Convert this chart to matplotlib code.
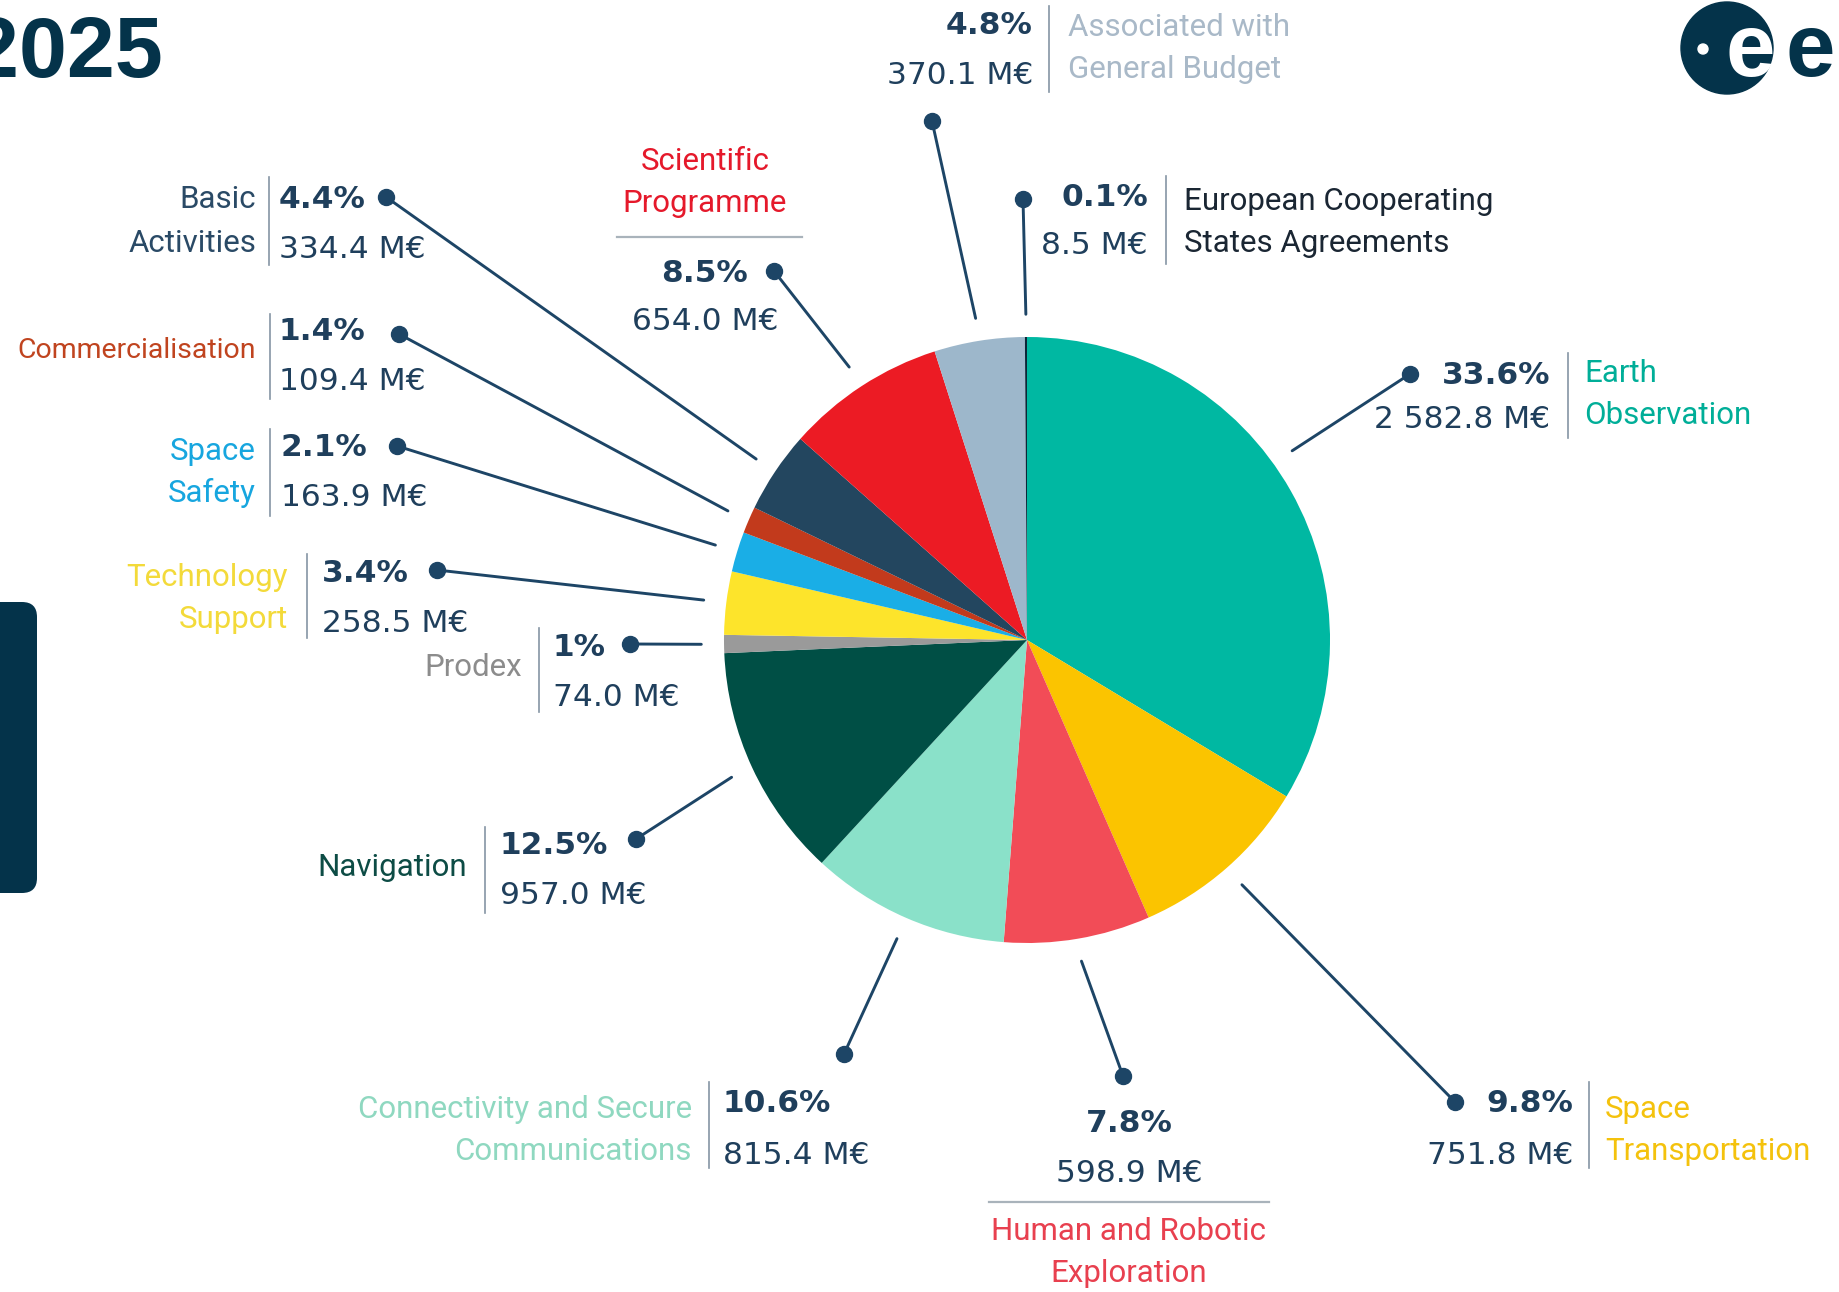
import numpy as np
import matplotlib
matplotlib.use("Agg")
import matplotlib.pyplot as plt
import matplotlib.font_manager as fm
from matplotlib.patches import FancyBboxPatch, Circle

# ---------------- data ----------------
programmes = [
    "Earth Observation", "Space Transportation", "Human and Robotic Exploration",
    "Connectivity and Secure Communications", "Navigation", "Prodex",
    "Technology Support", "Space Safety", "Commercialisation", "Basic Activities",
    "Scientific Programme", "Associated with General Budget",
    "European Cooperating States Agreements",
]
budget_meur = [2582.8, 751.8, 598.9, 815.4, 957.0, 74.0, 258.5, 163.9, 109.4,
               334.4, 654.0, 370.1, 8.5]
share_labels = ["33.6%", "9.8%", "7.8%", "10.6%", "12.5%", "1%", "3.4%", "2.1%",
                "1.4%", "4.4%", "8.5%", "4.8%", "0.1%"]
name_lines = [
    ["Earth", "Observation"], ["Space", "Transportation"],
    ["Human and Robotic", "Exploration"], ["Connectivity and Secure", "Communications"],
    ["Navigation"], ["Prodex"], ["Technology", "Support"], ["Space", "Safety"],
    ["Commercialisation"], ["Basic", "Activities"], ["Scientific", "Programme"],
    ["Associated with", "General Budget"], ["European Cooperating", "States Agreements"],
]
title_text = "2025"

# ---------------- styles ----------------
wedge_colors = ["#00b8a2", "#fbc400", "#f24c57", "#8ae1c9", "#004f45", "#9a9a9a",
                "#fde42b", "#1aaee6", "#c23a1c", "#23465f", "#ec1b24", "#9db7cb",
                "#0c2638"]
name_colors = ["#00ae98", "#f4c20d", "#e8404f", "#8fd8c0", "#0d4c45", "#8c8c8c",
               "#f3da3a", "#17a6df", "#c0441f", "#2a4a66", "#e5192b", "#a9b9c8",
               "#1a2633"]
DARK = "#04334a"
NUM = "#1f3f5c"
LEAD = "#1d4566"
SEP = "#8595a4"

def pick(cands):
    for c in cands:
        try:
            fm.findfont(fm.FontProperties(family=c), fallback_to_default=False)
            return c
        except Exception:
            pass
    return "DejaVu Sans"

NAME_FONT = pick(["Roboto", "Liberation Sans", "DejaVu Sans"])
NUM_FONT = "DejaVu Sans"
TITLE_FONT = pick(["Liberation Sans", "Roboto", "DejaVu Sans"])
FS = 22.5

W, H = 1840, 1292
CX, CY, R = 1027, 640, 303

# layout (pixel coordinates, y downward)
layout = [
    dict(kind="right", nx=1550, yp=375, yv=420, sep=(1568, 353, 438), tx=1584, ty=[373, 415], dot=(1410, 374), frac=0.45),
    dict(kind="right", nx=1573, yp=1104, yv=1155, sep=(1589, 1082, 1168), tx=1605, ty=[1110, 1152], dot=(1455, 1102)),
    dict(kind="below", nx=1129, yp=1123, yv=1174, hl=(1202, 989, 1269), tx=1129, ty=[1232, 1274], dot=(1123, 1076)),
    dict(kind="left", nx=723, yp=1104, yv=1155, sep=(709, 1082, 1168), tx=692, ty=[1109, 1151], dot=(844, 1054)),
    dict(kind="left", nx=500, yp=846, yv=895, sep=(485, 827, 913), tx=467, ty=[867], dot=(636, 839)),
    dict(kind="left", nx=553, yp=647, yv=697, sep=(539, 628, 712), tx=522, ty=[667], dot=(630, 644)),
    dict(kind="left", nx=322, yp=574, yv=623, sep=(307, 554, 638), tx=288, ty=[577, 620], dot=(437, 570)),
    dict(kind="left", nx=281, yp=448, yv=498, sep=(270, 429, 516), tx=256, ty=[451, 493], dot=(397, 446)),
    dict(kind="left", nx=279, yp=332, yv=381, sep=(270, 314, 399), tx=256, ty=[351], dot=(399, 334), nfs=20.5),
    dict(kind="left", nx=279, yp=200, yv=249, sep=(269, 177, 265), tx=256, ty=[200, 243], dot=(386, 197)),
    dict(kind="above", nx=705, yp=273, yv=322, hl=(237, 617, 802), tx=705, ty=[162, 204], dot=(774, 271)),
    dict(kind="right", nx=1033, yp=26, yv=75, sep=(1049, 6, 92), tx=1068, ty=[28, 70], dot=(932, 121)),
    dict(kind="right", nx=1148, yp=197, yv=246, sep=(1166, 176, 264), tx=1184, ty=[201, 243], dot=(1023, 199)),
]

fig = plt.figure(figsize=(W / 100, H / 100), dpi=100, facecolor="white")
ax = fig.add_axes([0, 0, 1, 1])

# pie: y axis inverted -> start at -90 and go counter-clockwise in data = clockwise on screen
wedges, _ = ax.pie(budget_meur, colors=wedge_colors, startangle=-90, counterclock=True,
                   center=(CX, CY), radius=R, wedgeprops=dict(linewidth=0))
ax.set_xlim(0, W)
ax.set_ylim(H, 0)
ax.set_aspect("auto")
ax.axis("off")

def fmt_val(v):
    return f"{v:,.1f}".replace(",", " ") + " M€"

for i, (w, lay) in enumerate(zip(wedges, layout)):
    frac = lay.get("frac", 0.5)
    th = np.deg2rad(w.theta1 + frac * (w.theta2 - w.theta1))
    sx, sy = CX + 1.075 * R * np.cos(th), CY + 1.075 * R * np.sin(th)
    dx, dy = lay["dot"]
    ax.plot([sx, dx], [sy, dy], color=LEAD, lw=2.1, solid_capstyle="round", zorder=3)
    ax.plot([dx], [dy], "o", color=LEAD, ms=11.5, zorder=4)

    kind = lay["kind"]
    nfs = lay.get("nfs", FS)
    pct, val = share_labels[i], fmt_val(budget_meur[i])
    if kind in ("left", "right"):
        ha_num = "left" if kind == "left" else "right"
        ha_name = "right" if kind == "left" else "left"
        ax.text(lay["nx"], lay["yp"], pct, ha=ha_num, va="center", fontsize=FS,
                fontweight="bold", color=NUM, family=NUM_FONT)
        ax.text(lay["nx"], lay["yv"], val, ha=ha_num, va="center", fontsize=FS,
                color=NUM, family=NUM_FONT)
        x, y0, y1 = lay["sep"]
        ax.plot([x, x], [y0, y1], color=SEP, lw=1.2)
        for line, ty in zip(name_lines[i], lay["ty"]):
            ax.text(lay["tx"], ty, line, ha=ha_name, va="center", fontsize=nfs,
                    color=name_colors[i], family=NAME_FONT)
    else:
        ax.text(lay["nx"], lay["yp"], pct, ha="center", va="center", fontsize=FS,
                fontweight="bold", color=NUM, family=NUM_FONT)
        ax.text(lay["nx"], lay["yv"], val, ha="center", va="center", fontsize=FS,
                color=NUM, family=NUM_FONT)
        y, x0, x1 = lay["hl"]
        ax.plot([x0, x1], [y, y], color="#a9b3bb", lw=1.6)
        for line, ty in zip(name_lines[i], lay["ty"]):
            ax.text(lay["tx"], ty, line, ha="center", va="center", fontsize=nfs,
                    color=name_colors[i], family=NAME_FONT)

# title (partially cut at the left edge, as in the original)
ax.text(163, 77, title_text, ha="right", va="baseline", fontsize=62,
        fontweight="bold", color=DARK, family=TITLE_FONT)

# logo
ax.add_patch(Circle((1727, 48), 46, color=DARK, zorder=5))
ax.add_patch(Circle((1703, 49), 5, color="white", zorder=6))
ax.text(1750, 76, "e", ha="center", va="baseline", fontsize=64, fontweight="bold",
        color="white", family=TITLE_FONT, zorder=7)
ax.text(1810, 76, "e", ha="center", va="baseline", fontsize=64, fontweight="bold",
        color=DARK, family=TITLE_FONT, zorder=7)

# left tab
ax.add_patch(FancyBboxPatch((-40, 602), 77, 291, boxstyle="round,pad=0,rounding_size=15",
                            facecolor=DARK, edgecolor="none"))

fig.savefig("out.png", dpi=100, facecolor="white")
